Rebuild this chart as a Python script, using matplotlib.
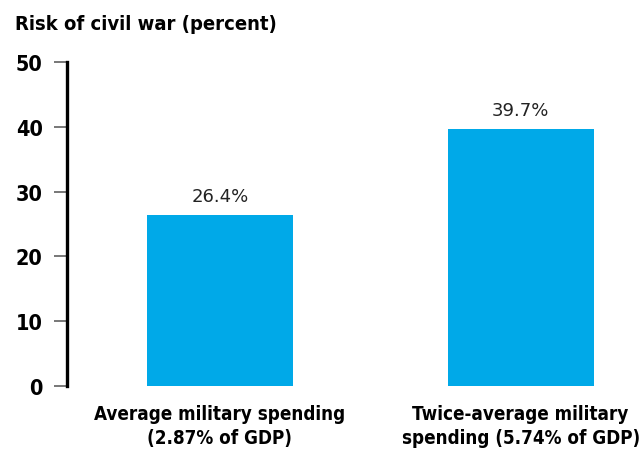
import matplotlib
matplotlib.use("Agg")
import matplotlib.pyplot as plt

categories = ["Average military spending\n(2.87% of GDP)",
              "Twice-average military\nspending (5.74% of GDP)"]
risk = [26.4, 39.7]
yticks = [0, 10, 20, 30, 40, 50]

FAM = ["DejaVu Sans"]
ST = "condensed"

fig = plt.figure(figsize=(6.41, 4.52), dpi=100)
ax = fig.add_axes([67 / 641, 1 - 387 / 452, 1 - 67 / 641, (387 - 63) / 452])

x = list(range(len(risk)))
bars = ax.bar(x, risk, width=0.485, color="#00a9e8")
for b, v in zip(bars, risk):
    ax.text(b.get_x() + b.get_width() / 2, v + 1.5, f"{v}%", ha="center", va="bottom",
            fontsize=13, color="#222", family="DejaVu Sans")

ax.set_xlim(-0.508, 1.4)
ax.set_ylim(0, 50)
ax.set_yticks(yticks)
ax.set_yticklabels([str(t) for t in yticks], fontsize=15.5, fontweight="bold", family=FAM,
                   fontstretch=ST)
ax.set_xticks(x)
ax.set_xticklabels(categories, fontsize=13.5, fontweight="bold", family=FAM, fontstretch=ST,
                   linespacing=1.3)
ax.tick_params(axis="x", length=0, pad=13)
ax.tick_params(axis="y", length=9.5, width=1.4, color="#777", pad=8)
for s in ["top", "right", "bottom"]:
    ax.spines[s].set_visible(False)
ax.spines["left"].set_linewidth(2.4)

fig.text(15 / 641, 1 - 25 / 452, "Risk of civil war (percent)", fontsize=14.5, fontweight="bold",
         family=FAM, fontstretch=ST, va="center", ha="left")

fig.savefig("out.png", dpi=100)
